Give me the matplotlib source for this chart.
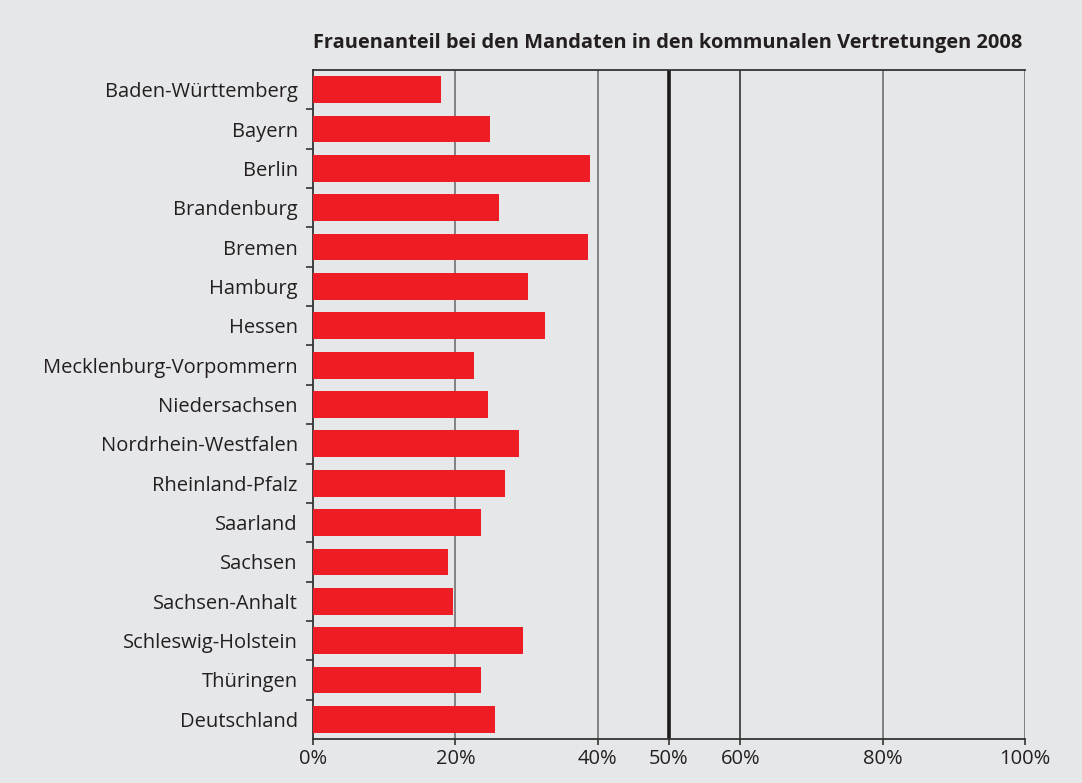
import matplotlib
matplotlib.use("Agg")
from matplotlib import pyplot as plt

plt.rcParams['font.family'] = ['Open Sans', 'DejaVu Sans']

laender = ['Baden-Württemberg', 'Bayern', 'Berlin', 'Brandenburg', 'Bremen',
           'Hamburg', 'Hessen', 'Mecklenburg-Vorpommern', 'Niedersachsen',
           'Nordrhein-Westfalen', 'Rheinland-Pfalz', 'Saarland', 'Sachsen',
           'Sachsen-Anhalt', 'Schleswig-Holstein', 'Thüringen', 'Deutschland']
anteil = [18.0, 24.9, 38.9, 26.1, 38.6, 30.2, 32.6, 22.6, 24.6,
          28.9, 27.0, 23.6, 19.0, 19.7, 29.5, 23.6, 25.6]
xticks = [0, 20, 40, 50, 60, 80, 100]
xlabels = ['0%', '20%', '40%', '50%', '60%', '80%', '100%']

bg = '#e6e7e9'
fig = plt.figure(figsize=(10.82, 7.83), dpi=100, facecolor=bg)
ax = fig.add_axes([0.2893, 0.0562, 0.6580, 0.8544], facecolor=bg)

ypos = list(range(len(laender)))
ax.barh(ypos, anteil, height=0.68, color='#ee1d25', zorder=3)

for v in [20, 40, 80, 100]:
    ax.axvline(v, color='#7a7a7a', lw=1.3, zorder=1)
ax.axvline(60, color='#333333', lw=1.2, zorder=1)
ax.axvline(50, color='#1a1a1a', lw=2.6, zorder=1)

ax.set_xlim(0, 100)
ax.set_ylim(len(laender) - 0.5, -0.5)
ax.set_xticks(xticks)
ax.set_xticklabels(xlabels, fontsize=14.5, color='#231f20')
ax.set_yticks(ypos)
ax.set_yticklabels(laender, fontsize=14.5, color='#231f20')
ax.tick_params(axis='y', length=0, pad=11)
ax.set_yticks([y + 0.5 for y in ypos[:-1]], minor=True)
ax.tick_params(axis='y', which='minor', length=5, color='#333333', width=1.2)
ax.tick_params(axis='x', length=4, color='#333333', width=1.2, pad=3)

for s in ['left', 'bottom', 'top']:
    ax.spines[s].set_color('#333333')
    ax.spines[s].set_linewidth(1.3)
ax.spines['right'].set_visible(False)

fig.text(0.2893, 0.945, 'Frauenanteil bei den Mandaten in den kommunalen Vertretungen 2008',
         fontsize=14.4, fontweight='bold', color='#231f20', ha='left', va='center')

fig.savefig('out.png', dpi=100, facecolor=bg)
